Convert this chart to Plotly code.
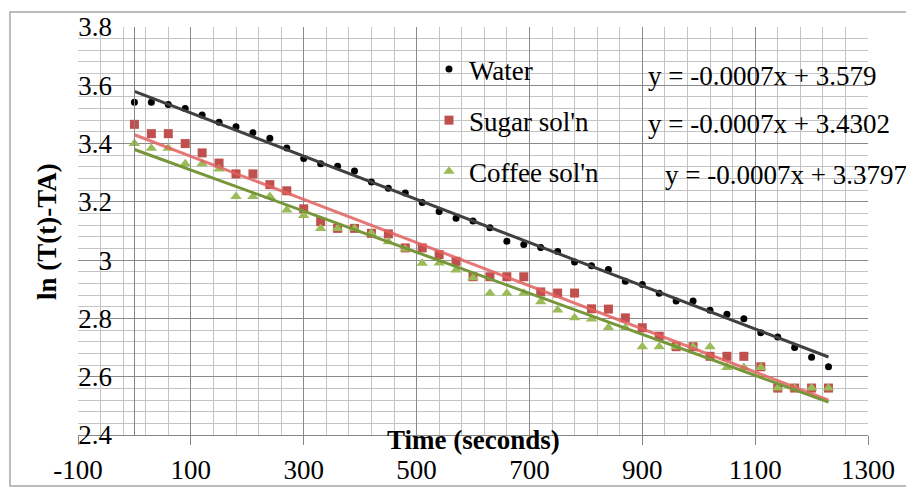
import plotly.graph_objects as go

# ---- data ----
time_s = [0, 30, 60, 90, 120, 150, 180, 210, 240, 270, 300, 330, 360, 390,
          420, 450, 480, 510, 540, 570, 600, 630, 660, 690, 720, 750, 780, 810,
          840, 870, 900, 930, 960, 990, 1020, 1050, 1080, 1110, 1140, 1170,
          1200, 1230]

water = [3.542, 3.542, 3.534, 3.520, 3.498, 3.473, 3.458, 3.437, 3.418, 3.385,
         3.349, 3.331, 3.322, 3.306, 3.268, 3.247, 3.230, 3.198, 3.167, 3.144,
         3.134, 3.111, 3.065, 3.054, 3.043, 3.030, 2.994, 2.981, 2.968, 2.928,
         2.916, 2.886, 2.860, 2.860, 2.828, 2.814, 2.799, 2.751, 2.736, 2.700,
         2.667, 2.634]

sugar = [3.466, 3.434, 3.434, 3.400, 3.368, 3.333, 3.296, 3.296, 3.259, 3.238,
         3.176, 3.132, 3.109, 3.109, 3.092, 3.090, 3.042, 3.042, 3.019, 2.996,
         2.943, 2.943, 2.943, 2.943, 2.891, 2.887, 2.887, 2.833, 2.832, 2.802,
         2.768, 2.739, 2.703, 2.703, 2.670, 2.670, 2.670, 2.634, 2.561, 2.561,
         2.561, 2.561]

coffee = [3.400, 3.384, 3.384, 3.331, 3.331, 3.313, 3.218, 3.218, 3.218, 3.172,
          3.153, 3.109, 3.109, 3.109, 3.092, 3.063, 3.038, 2.989, 2.990, 2.966,
          2.940, 2.886, 2.886, 2.886, 2.857, 2.829, 2.802, 2.798, 2.769, 2.768,
          2.703, 2.703, 2.703, 2.703, 2.703, 2.632, 2.632, 2.632, 2.561, 2.561,
          2.561, 2.561]

series_names = ["Water", "Sugar sol'n", "Coffee sol'n"]
trend_intercepts = [3.579, 3.4302, 3.3797]
trend_slopes = [-0.000741, -0.000740, -0.000705]
trend_x = [0, 1230]
equations = ["y = -0.0007x + 3.579", "y = -0.0007x + 3.4302", "y = -0.0007x + 3.3797"]

x_tick_vals = [-100, 100, 300, 500, 700, 900, 1100, 1300]
x_tick_text = ["-100", "100", "300", "500", "700", "900", "1100", "1300"]
y_tick_vals = [2.4, 2.6, 2.8, 3.0, 3.2, 3.4, 3.6, 3.8]
y_tick_text = ["2.4", "2.6", "2.8", "3", "3.2", "3.4", "3.6", "3.8"]

# ---- styling ----
FONT = "Liberation Serif, Times New Roman, serif"
FS = 27          # tick / legend / equation text
FS_TITLE = 27    # bold axis titles
OFF = 8                      # page body margin of the browser
SCREEN_W, SCREEN_H = 914, 489
W, H = SCREEN_W - OFF, SCREEN_H - OFF
PL, PR, PT, PB = 78, 868, 27, 435   # plot area in screen pixels
L, T = PL - OFF, PT - OFF
R, B = SCREEN_W - PR, SCREEN_H - PB
plot_w = PR - PL
plot_h = PB - PT


def px_to_paper_x(px):
    return (px - PL) / plot_w


def px_to_paper_y(py):
    return (PB - py) / plot_h


marker_styles = [
    dict(symbol="circle", size=7, color="#000000"),
    dict(symbol="square", size=9, color="#C0504D"),
    dict(symbol="triangle-up", size=10, color="#9BBB59"),
]
trend_colors = ["#404040", "rgba(226,96,96,0.85)", "#77963A"]
series_values = [water, sugar, coffee]

fig = go.Figure()

for name, vals, ms, grp in zip(series_names, series_values, marker_styles, ["w", "s", "c"]):
    fig.add_trace(go.Scatter(
        x=time_s, y=vals, mode="markers", name=name, legendgroup=grp,
        marker=dict(symbol=ms["symbol"], size=ms["size"], color=ms["color"],
                    line=dict(width=0)),
    ))

for b, m, col in zip(trend_intercepts, trend_slopes, trend_colors):
    fig.add_trace(go.Scatter(
        x=trend_x, y=[b + m * xv for xv in trend_x], mode="lines",
        line=dict(color=col, width=3), showlegend=False, hoverinfo="skip",
    ))

eq_pos = [(646, 76), (646, 124), (663, 175)]
annotations = []
for txt, (ex, ey) in zip(equations, eq_pos):
    annotations.append(dict(
        text=txt, xref="paper", yref="paper",
        x=px_to_paper_x(ex), y=px_to_paper_y(ey),
        xanchor="left", yanchor="middle", showarrow=False,
        font=dict(family=FONT, size=FS, color="#000000"),
    ))

annotations.append(dict(
    text="<b>Time (seconds)</b>", xref="paper", yref="paper",
    x=px_to_paper_x(473), y=px_to_paper_y(440),
    xanchor="center", yanchor="middle", showarrow=False,
    font=dict(family=FONT, size=FS_TITLE, color="#000000"),
))
annotations.append(dict(
    text="<b>ln (T(t)-TA)</b>", xref="paper", yref="paper",
    x=px_to_paper_x(47), y=px_to_paper_y(232), textangle=-90,
    xanchor="center", yanchor="middle", showarrow=False,
    font=dict(family=FONT, size=FS_TITLE, color="#000000"),
))

fig.update_layout(
    width=W, height=H,
    margin=dict(l=L, r=R, t=T, b=B, pad=0, autoexpand=False),
    paper_bgcolor="#ffffff", plot_bgcolor="#ffffff",
    font=dict(family=FONT, size=FS, color="#000000"),
    showlegend=True,
    legend=dict(
        x=px_to_paper_x(429), y=px_to_paper_y(45), xanchor="left", yanchor="top",
        bgcolor="rgba(0,0,0,0)", borderwidth=0, tracegroupgap=13,
        font=dict(family=FONT, size=FS, color="#000000"), traceorder="grouped",
    ),
    annotations=annotations,
    shapes=[dict(
        type="rect", xref="paper", yref="paper",
        x0=px_to_paper_x(10), x1=px_to_paper_x(911),
        y0=px_to_paper_y(486), y1=px_to_paper_y(12),
        line=dict(color="#a6a6a6", width=1.5), fillcolor="rgba(0,0,0,0)",
        layer="above",
    )],
    xaxis=dict(
        range=[-100, 1300], tickmode="array", tickvals=x_tick_vals, ticktext=x_tick_text,
        automargin=False,
        ticks="outside", ticklen=9, tickcolor="#868686", tickwidth=1,
        showline=True, linecolor="#868686", linewidth=1, mirror=False,
        showgrid=True, gridcolor="#8a8a8a", gridwidth=1, zeroline=False,
        minor=dict(tick0=-100, dtick=40, showgrid=True, gridcolor="#c4c4c4",
                   gridwidth=1.4, ticks=""),
        ticklabelstandoff=2,
        tickfont=dict(family=FONT, size=FS, color="#000000"),
    ),
    yaxis=dict(
        range=[2.4, 3.8], tickmode="array", tickvals=y_tick_vals, ticktext=y_tick_text,
        automargin=False,
        anchor="free", position=100 / 1400,
        ticks="", showline=True, linecolor="#868686", linewidth=1,
        showgrid=True, gridcolor="#8a8a8a", gridwidth=1, zeroline=False,
        minor=dict(tick0=2.4, dtick=0.04, showgrid=True, gridcolor="#c4c4c4",
                   gridwidth=1.4, ticks=""),
        ticklabelstandoff=17,
        tickfont=dict(family=FONT, size=FS, color="#000000"),
    ),
)

fig.write_html("out.html")
